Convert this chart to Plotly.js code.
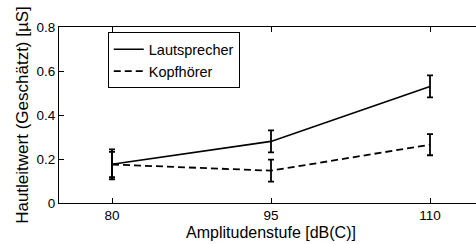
<!DOCTYPE html>
<html>
<head>
<meta charset="utf-8">
<script src="https://cdn.plot.ly/plotly-3.0.1.min.js"></script>
<style>
html,body{margin:0;padding:0;overflow:hidden;background:#fff;}
#chart{width:484px;height:244px;}
</style>
</head>
<body>
<div id="chart"></div>
<script>
const categories = [80, 95, 110];
const tickLabels = ['80', '95', '110'];
const lautsprecher = [0.176, 0.28, 0.53];
const lautsprecherErr = [0.068, 0.05, 0.05];
const kopfhoerer = [0.175, 0.147, 0.265];
const kopfhoererErr = [0.057, 0.05, 0.048];

const FONT = 'Liberation Sans, Arial, sans-serif';

const traces = [
  {
    x: categories, y: lautsprecher, name: 'Lautsprecher', type: 'scatter', mode: 'lines',
    line: {color: '#000', width: 1.6},
    error_y: {type: 'data', array: lautsprecherErr, visible: true, color: '#000', thickness: 1.8, width: 3}
  },
  {
    x: categories, y: kopfhoerer, name: 'Kopfhörer', type: 'scatter', mode: 'lines',
    line: {color: '#000', width: 1.8, dash: '7px,4px'},
    error_y: {type: 'data', array: kopfhoererErr, visible: true, color: '#000', thickness: 1.8, width: 3}
  }
];

const layout = {
  width: 484, height: 244,
  margin: {l: 59, r: 1, t: 27, b: 41},
  paper_bgcolor: '#fff', plot_bgcolor: '#fff',
  font: {family: FONT, color: '#000', size: 13},
  showlegend: true,
  legend: {
    x: 0.115, y: 0.97, xanchor: 'left', yanchor: 'top',
    bordercolor: '#000', borderwidth: 1, bgcolor: '#fff',
    font: {family: FONT, size: 14.5, color: '#000'},
    tracegroupgap: 0
  },
  xaxis: {
    range: [75, 115], tickvals: categories, ticktext: tickLabels,
    showline: true, linecolor: '#000', linewidth: 1, mirror: 'ticks',
    ticks: 'inside', ticklen: 5, tickcolor: '#000', showgrid: false, zeroline: false,
    tickfont: {size: 13.5},
    title: {text: 'Amplitudenstufe [dB(C)]', font: {size: 16}, standoff: 4}
  },
  yaxis: {
    range: [0, 0.8], tickvals: [0, 0.2, 0.4, 0.6, 0.8], ticktext: ['0', '0.2', '0.4', '0.6', '0.8'],
    showline: true, linecolor: '#000', linewidth: 1, mirror: 'ticks',
    ticks: 'inside', ticklen: 5, tickcolor: '#000', showgrid: false, zeroline: false,
    tickfont: {size: 13.5},
    title: {text: 'Hautleitwert (Geschätzt) [µS]', font: {size: 17}, standoff: 3}
  }
};

Plotly.newPlot('chart', traces, layout, {displayModeBar: false, staticPlot: true});
</script>
</body>
</html>
